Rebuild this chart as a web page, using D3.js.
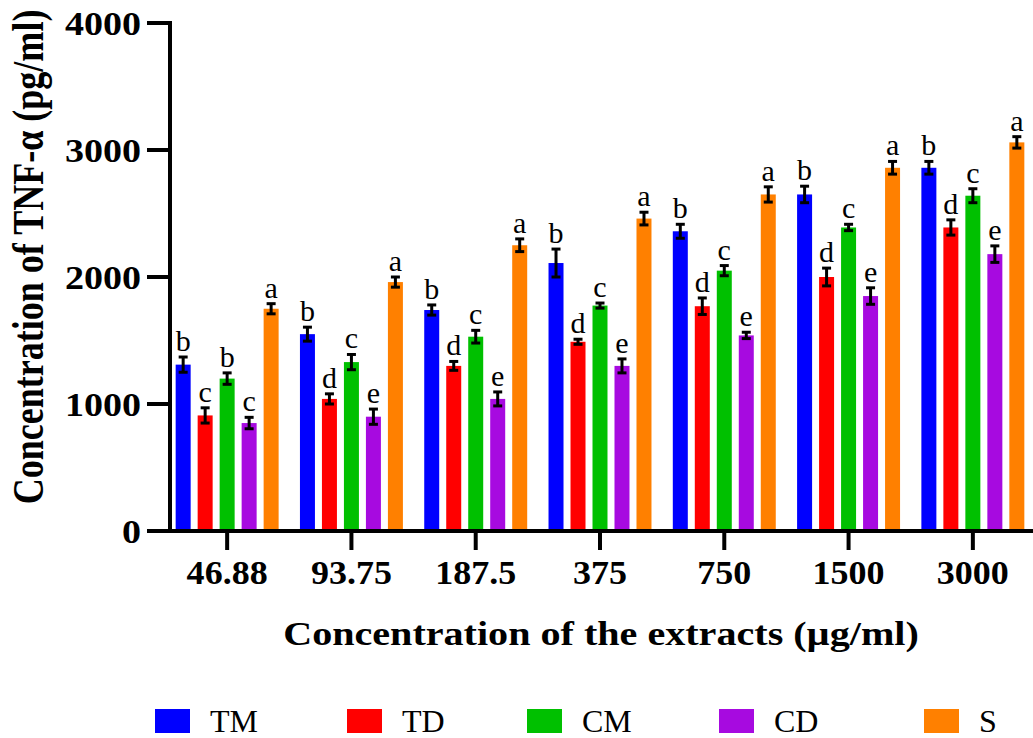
<!DOCTYPE html>
<meta charset="utf-8">
<style>
    body { margin: 0; background: #fff; }
    text { font-family: "Liberation Serif", "Times New Roman", serif; fill: #000; }
    .tick-label { font-size: 34px; font-weight: bold; }
    .axis-title { font-size: 34px; font-weight: bold; }
    .sig { font-size: 30px; }
    .legend text { font-size: 32px; }
</style>
<svg width="1033" height="738"></svg>
<script src="https://d3js.org/d3.v7.min.js"></script>
<script>
    // concentrations on the x axis
    var concentrations = ["46.88", "93.75", "187.5", "375", "750", "1500", "3000"];
    var series = ["TM", "TD", "CM", "CD", "S"];
    var colors = ["#0000ff", "#ff0000", "#00c000", "#a70ae0", "#ff8000"];

    // means (pg/ml), one array per series
    var TM = [1310, 1550, 1740, 2110, 2360, 2650, 2860];
    var TD = [910, 1040, 1300, 1490, 1770, 2000, 2390];
    var CM = [1200, 1330, 1530, 1775, 2050, 2390, 2640];
    var CD = [850, 900, 1040, 1300, 1540, 1850, 2180];
    var S  = [1750, 1960, 2250, 2460, 2650, 2860, 3060];

    // error bars (SD)
    var TM_sd = [60, 55, 40, 110, 55, 65, 50];
    var TD_sd = [60, 40, 35, 20, 65, 70, 60];
    var CM_sd = [45, 60, 50, 20, 40, 25, 55];
    var CD_sd = [45, 60, 55, 55, 25, 65, 65];
    var S_sd  = [40, 40, 50, 50, 60, 50, 45];

    // significance letters
    var TM_sig = ["b", "b", "b", "b", "b", "b", "b"];
    var TD_sig = ["c", "d", "d", "d", "d", "d", "d"];
    var CM_sig = ["b", "c", "c", "c", "c", "c", "c"];
    var CD_sig = ["c", "e", "e", "e", "e", "e", "e"];
    var S_sig  = ["a", "a", "a", "a", "a", "a", "a"];

    var yTicks = [0, 1000, 2000, 3000, 4000];

    var means = [TM, TD, CM, CD, S];
    var sds = [TM_sd, TD_sd, CM_sd, CD_sd, S_sd];
    var sigs = [TM_sig, TD_sig, CM_sig, CD_sig, S_sig];

    var rows = [];
    concentrations.forEach(function(c, i) {
        series.forEach(function(s, j) {
            rows.push({conc: c, series: s, color: colors[j], value: means[j][i], sd: sds[j][i], sig: sigs[j][i]});
        });
    });

    var svg = d3.select("svg");

    var x0 = d3.scaleBand().domain(concentrations).range([165, 1035]);
    var x1 = d3.scaleBand().domain(series).range([-55, 55]).paddingInner(7 / 22).paddingOuter(0.16);
    var y = d3.scaleLinear().domain([0, 4000]).range([531, 23]);

    function cx(d) { return x0(d.conc) + x0.bandwidth() / 2 + x1(d.series) + x1.bandwidth() / 2; }

    // bars
    svg.append("g")
        .selectAll("rect")
        .data(rows)
        .enter().append("rect")
        .attr("x", function(d) { return cx(d) - x1.bandwidth() / 2; })
        .attr("y", function(d) { return y(d.value); })
        .attr("width", x1.bandwidth())
        .attr("height", function(d) { return y(0) - y(d.value); })
        .attr("fill", function(d) { return d.color; });

    // error bars
    var err = svg.append("g").attr("stroke", "#000").attr("stroke-width", 3);
    err.selectAll("line.v")
        .data(rows)
        .enter().append("line")
        .attr("class", "v")
        .attr("x1", cx).attr("x2", cx)
        .attr("y1", function(d) { return y(d.value - d.sd); })
        .attr("y2", function(d) { return y(d.value + d.sd); });
    [1, -1].forEach(function(k) {
        err.selectAll("line.c" + k)
            .data(rows)
            .enter().append("line")
            .attr("x1", function(d) { return cx(d) - 4.5; })
            .attr("x2", function(d) { return cx(d) + 4.5; })
            .attr("y1", function(d) { return y(d.value + k * d.sd); })
            .attr("y2", function(d) { return y(d.value + k * d.sd); });
    });

    // letters
    svg.append("g")
        .selectAll("text")
        .data(rows)
        .enter().append("text")
        .attr("class", "sig")
        .attr("text-anchor", "middle")
        .attr("x", cx)
        .attr("y", function(d) { return y(d.value + d.sd) - 6; })
        .text(function(d) { return d.sig; });

    // y axis
    var yAxis = svg.append("g");
    yAxis.append("line")
        .attr("x1", 170).attr("x2", 170)
        .attr("y1", y(4000) - 2).attr("y2", y(0) + 2)
        .attr("stroke", "#000").attr("stroke-width", 4);
    yAxis.selectAll("line.tick")
        .data(yTicks)
        .enter().append("line")
        .attr("class", "tick")
        .attr("x1", 147).attr("x2", 170)
        .attr("y1", function(d) { return y(d); })
        .attr("y2", function(d) { return y(d); })
        .attr("stroke", "#000").attr("stroke-width", 4);
    yAxis.selectAll("text")
        .data(yTicks)
        .enter().append("text")
        .attr("class", "tick-label")
        .attr("text-anchor", "end")
        .attr("transform", function(d) { return "translate(141," + (y(d) + 12) + ") scale(1.12,1)"; })
        .text(function(d) { return d; });

    // x axis
    var xAxis = svg.append("g");
    xAxis.append("line")
        .attr("x1", 147).attr("x2", 1033)
        .attr("y1", y(0)).attr("y2", y(0))
        .attr("stroke", "#000").attr("stroke-width", 4);
    xAxis.selectAll("line.tick")
        .data(concentrations)
        .enter().append("line")
        .attr("class", "tick")
        .attr("x1", function(d) { return x0(d) + x0.bandwidth() / 2; })
        .attr("x2", function(d) { return x0(d) + x0.bandwidth() / 2; })
        .attr("y1", y(0)).attr("y2", y(0) + 19)
        .attr("stroke", "#000").attr("stroke-width", 4);
    xAxis.selectAll("text")
        .data(concentrations)
        .enter().append("text")
        .attr("class", "tick-label")
        .attr("text-anchor", "middle")
        .attr("transform", function(d) { return "translate(" + (x0(d) + x0.bandwidth() / 2) + ",584) scale(1.06,1)"; })
        .text(function(d) { return d; });

    // axis titles
    svg.append("text")
        .attr("class", "axis-title")
        .attr("text-anchor", "middle")
        .attr("transform", "translate(601,645) scale(1.18,1)")
        .text("Concentration of the extracts (µg/ml)");
    svg.append("text")
        .attr("class", "axis-title")
        .attr("text-anchor", "middle")
        .attr("transform", "translate(43,257) scale(1.3,1.06) rotate(-90)")
        .text("Concentration of TNF-α (pg/ml)");

    // legend
    var legendX = [155, 347, 527, 719, 924];
    var legend = svg.append("g").attr("class", "legend")
        .selectAll("g")
        .data(series)
        .enter().append("g")
        .attr("transform", function(d, i) { return "translate(" + legendX[i] + ",709)"; });
    legend.append("rect")
        .attr("width", 35).attr("height", 24)
        .attr("fill", function(d, i) { return colors[i]; });
    legend.append("text")
        .attr("x", 55).attr("y", 23)
        .text(function(d) { return d; });
</script>
